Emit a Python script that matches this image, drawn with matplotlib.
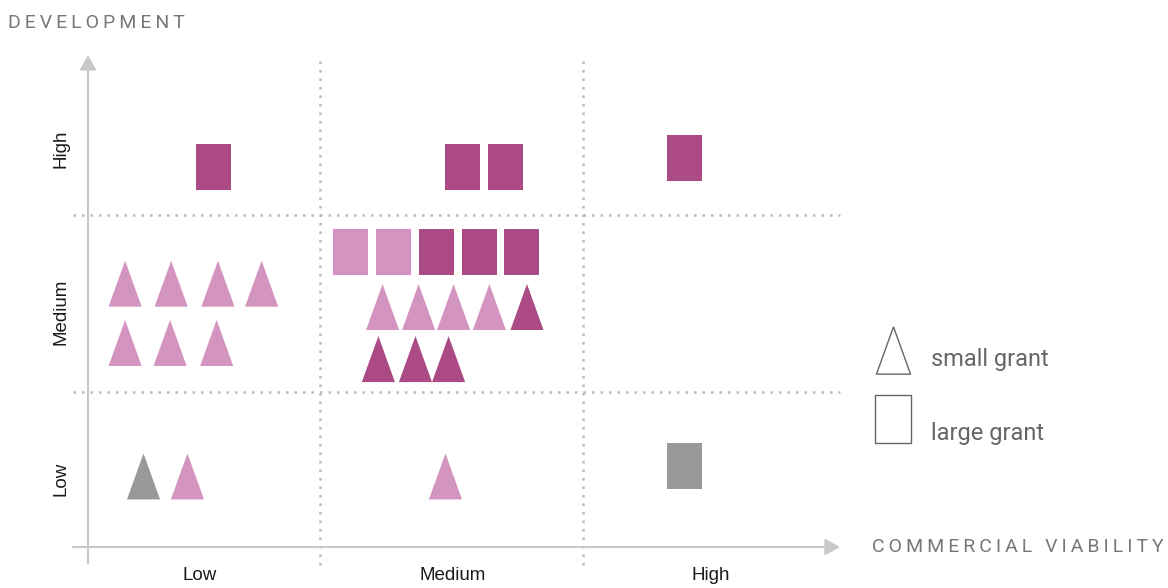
import matplotlib
matplotlib.use('Agg')
import matplotlib.pyplot as plt

# categories
levels = ['Low', 'Medium', 'High']

# colours of the grant types
light = '#D494C0'
dark = '#AC4A85'
grey = '#999999'

# large grants (rectangles): commercial viability x, development y
large_x = [0.595, 1.542, 1.705, 2.386, 1.116, 1.279, 1.443, 1.606, 1.766, 2.386]
large_y = [2.271, 2.271, 2.271, 2.322, 1.791, 1.791, 1.791, 1.791, 1.791, 0.582]
large_c = [dark, dark, dark, dark, light, light, dark, dark, dark, grey]

# small grants (triangles)
small_x = [0.259, 0.434, 0.612, 0.778, 0.259, 0.430, 0.607,
           1.238, 1.375, 1.508, 1.644, 1.787, 1.222, 1.363, 1.489,
           0.329, 0.496, 1.477]
small_y = [1.612, 1.612, 1.612, 1.612, 1.277, 1.277, 1.277,
           1.480, 1.480, 1.480, 1.480, 1.480, 1.186, 1.186, 1.186,
           0.523, 0.523, 0.523]
small_c = [light] * 7 + [light, light, light, light, dark, dark, dark, dark] + [grey, light, light]

tri = [(0, 0.5), (-0.36, -0.5), (0.36, -0.5), (0, 0.5)]
rect = [(-0.376, -0.5), (0.376, -0.5), (0.376, 0.5), (-0.376, 0.5), (-0.376, -0.5)]


def px(x, y):
    # pixel position of the picture -> data units
    return 1 + (x - 320) / 263, 1 + (392 - y) / 177


fig = plt.figure(figsize=(11.68, 5.88), dpi=100)
ax = fig.add_axes([0, 0, 1, 1])
x0, y0 = px(0, 588)
x1, y1 = px(1168, 0)
ax.set_xlim(x0, x1)
ax.set_ylim(y0, y1)
ax.axis('off')

# grid
dots = dict(color='#BBBBBB', lw=1.8, linestyle=(0, (1, 2.4)), zorder=1)
for gx in [1, 2]:
    ax.plot([gx, gx], [px(0, 565)[1], px(0, 57)[1]], **dots)
for gy in [1, 2]:
    ax.plot([px(73, 0)[0], px(840, 0)[0]], [gy, gy], **dots)

# axes arrows
arr = dict(arrowstyle='-|>,head_length=0.45,head_width=0.25', color='#C8C8C8',
           lw=1.5, mutation_scale=20, shrinkA=0, shrinkB=0)
ax.annotate('', xy=px(88, 55), xytext=px(88, 563), arrowprops=arr)
ax.annotate('', xy=px(840, 547), xytext=px(73, 547), arrowprops=arr)

# marks
ax.scatter(large_x, large_y, s=1122, marker=rect, c=large_c, linewidths=0, zorder=3)
ax.scatter(small_x, small_y, s=1096, marker=tri, c=small_c, linewidths=0, zorder=3)

# category labels
tick_font = dict(family=['Liberation Sans', 'DejaVu Sans'], fontsize=13.5, color='#1a1a1a')
for lab, (tx, ty) in zip(levels, [px(200, 580), px(453, 580), px(711, 580)]):
    ax.text(tx, ty, lab, ha='center', va='baseline', **tick_font)
for lab, (tx, ty) in zip(levels, [px(61, 479), px(61, 312), px(61, 149)]):
    ax.text(tx, ty, lab, ha='center', va='center', rotation=90, **tick_font)

# axis titles
title_font = dict(family=['Roboto', 'DejaVu Sans'], fontsize=14, color='#777777')
sp = '\u2009'
ax.text(*px(8, 28), sp.join('DEVELOPMENT'), ha='left', va='baseline', **title_font)
ax.text(*px(1164, 552), sp.join('COMMERCIAL VIABILITY'), ha='right', va='baseline', **title_font)

# legend
ax.scatter(*px(893, 349.5), s=1160, marker=tri, facecolors='white', edgecolors='#666666',
           linewidths=1, zorder=3)
ax.scatter(*px(893, 418.5), s=1160, marker=rect, facecolors='white', edgecolors='#666666',
           linewidths=1, zorder=3)
leg_font = dict(family=['Roboto', 'DejaVu Sans'], fontsize=17, color='#666666')
ax.text(*px(931, 366), 'small grant', ha='left', va='baseline', **leg_font)
ax.text(*px(931, 440), 'large grant', ha='left', va='baseline', **leg_font)

fig.savefig('out.png', dpi=100)
